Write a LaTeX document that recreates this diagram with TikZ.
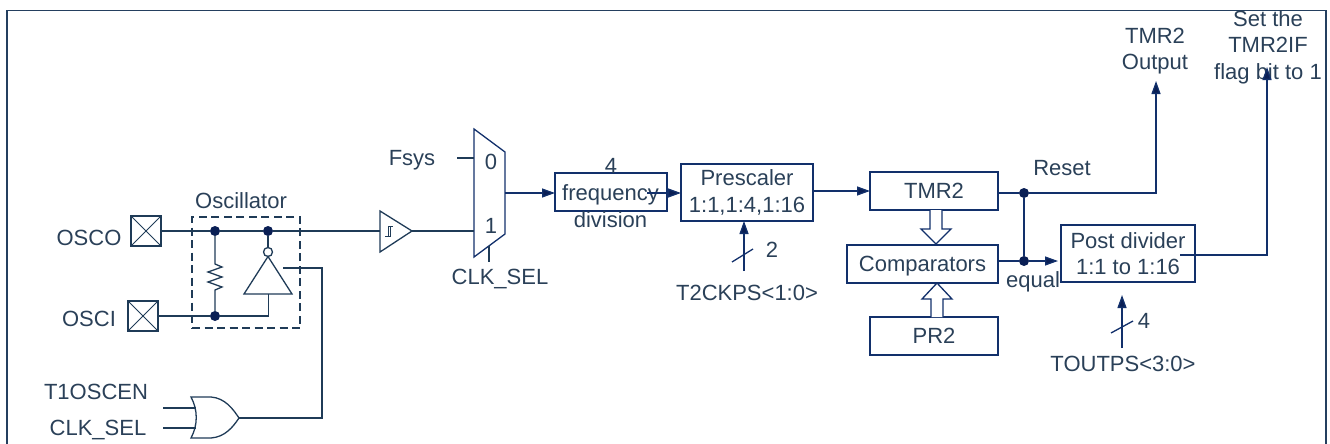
\documentclass[tikz,border=0pt]{standalone}
\usepackage{fontspec}
\setmainfont{Liberation Sans}
\usetikzlibrary{arrows.meta,calc}
\definecolor{boxc}{HTML}{12306B}
\definecolor{gatec}{HTML}{1F3B57}
\definecolor{textc}{HTML}{2A4058}
\definecolor{dotc}{HTML}{0A1F55}
\definecolor{framec}{HTML}{243F5F}
\tikzset{
  x=1pt,y=-1pt,
  lab/.style={text=textc,inner sep=0pt,outer sep=0pt,font=\fontsize{22}{26.5}\selectfont,text height=15.7pt,text depth=0pt,anchor=center},
  mlab/.style={text=textc,inner sep=0pt,outer sep=0pt,font=\fontsize{22}{26.5}\selectfont,align=center,anchor=center},
  blk/.style={draw=boxc,line width=1.3pt,inner sep=0pt,outer sep=0pt,minimum width=#1},
  wire/.style={draw=gatec,line width=1.3pt},
  bwire/.style={draw=boxc,line width=1.3pt},
  arr/.style={bwire,-{Triangle[length=13pt,width=9pt,fill=dotc]}},
  hollow/.style={draw=boxc,line width=1.3pt,fill=white,line join=miter},
  jdot/.style={circle,fill=dotc,inner sep=0pt,outer sep=0pt,minimum size=10pt},
  pad/.style={draw=gatec,line width=1.3pt,inner sep=0pt,outer sep=0pt,minimum size=30pt,
    path picture={\draw[gatec,line width=1pt] (path picture bounding box.north west)--(path picture bounding box.south east)
      (path picture bounding box.north east)--(path picture bounding box.south west);}},
  gate/.style={draw=gatec,line width=1.3pt,line join=miter}
}
\begin{document}
\begin{tikzpicture}
\useasboundingbox (0,0) rectangle (1330,444);
% frame
\draw[framec,line width=1.6pt] (7,446) -- (7,10.5) -- (1326,10.5) -- (1326,446);

% pads and oscillator
\node[lab] (oscoT) at (89,238) {OSCO};
\node[lab] (osciT) at (89,319) {OSCI};
\node[pad] (osco) at (146,231) {};
\node[pad] (osci) at (143,316) {};
\node[draw=gatec,line width=1.3pt,dash pattern=on 8pt off 4.5pt,minimum width=108pt,minimum height=111pt,inner sep=0pt,outer sep=0pt] (oscbox) at (246,272.5) {};
\node[lab] (oscT) at (241,201) {Oscillator};
\node[jdot] (j1) at (215,231) {};
\node[jdot] (j2) at (268,231) {};
\node[jdot] (j3) at (215,316) {};
\coordinate (rtop) at (215,263);
\coordinate (rbot) at (215,291);
\node[circle,draw=gatec,line width=1.3pt,fill=white,minimum size=9pt,inner sep=0pt,outer sep=0pt] (bub) at (268,252) {};
\coordinate (invB) at (268.5,294);
\coordinate (invEn) at (283,268);
\coordinate (orOut) at (239,418);
\coordinate (schIn) at (380,231);
\coordinate (schOut) at (412,231);

\draw[wire] (osco.east) -- (j1) -- (j2) -- (schIn);
\draw[wire] (osci.east) -- (j3) -| (invB);
\draw[wire] (j2) -- (bub);
\draw[wire] (j1) -- (rtop) -- ++(0,1) -- (222,267) -- (208,272) -- (222,277) -- (208,282) -- (222,287) -- (215,290) -- (rbot) -- (j3);
\draw[gate] (bub.south) -- (292,294) -- (244,294) -- cycle;
\draw[wire] (invEn) -- (322,268) |- (orOut);

% OR gate
\draw[gate] (191,397) -- (211,397) .. controls (225,398) and (233,409) .. (orOut) .. controls (233,427) and (225,437) .. (211,438) -- (191,438) .. controls (198,425) and (198,410) .. cycle;
\node[lab] (t1T) at (96,392) {T1OSCEN};
\node[lab] (clkT) at (98,428) {CLK\_SEL};
\coordinate (in1a) at (163,408);
\coordinate (in1b) at (196,408);
\coordinate (in2a) at (163,428);
\coordinate (in2b) at (196,428);
\draw[wire] (in1a) -- (in1b);
\draw[wire] (in2a) -- (in2b);

% schmitt trigger
\draw[gate] (380,211) -- (schOut) -- (380,252) -- cycle;
\draw[gatec,line width=1pt] (385,236) -- (390,236) -- (390,226) (388,236) -- (388,226) -- (393,226);
% mux
\coordinate (mux1) at (474,231);
\coordinate (mux0) at (474,158);
\coordinate (muxOut) at (505,193);
\coordinate (muxS) at (489,245.5);
\draw[bwire,line join=miter] (474,129) -- (505,152) -- (505,234) -- (474,257) -- cycle;
\draw[wire] (schOut) -- (mux1);
\node[lab] (fsysT) at (412,158) {Fsys};
\coordinate (f0) at (457,158);
\draw[wire] (f0) -- (mux0);
\node[lab] (m0) at (491,162) {0};
\node[lab] (m1) at (491,226) {1};
\coordinate (selEnd) at (489,262);
\draw[wire] (muxS) -- (selEnd);
\node[lab] (selT) at (500,277) {CLK\_SEL};

% frequency division
\node[blk=112pt,minimum height=38pt] (freq) at (611,192) {};
\node[mlab] (freqT) at (610.5,206) {frequency\\division};
\node[lab] (fourA) at (611,166) {4};
\draw[arr] (muxOut) -- (freq.west |- muxOut);

% prescaler
\node[blk=132pt,minimum height=57pt,mlab,draw=boxc] (pre) at (747,192.5) {Prescaler\\1:1,1:4,1:16};
\coordinate (fq2) at (647,193);
\draw[arr] (fq2) -- (pre.west |- fq2);
\coordinate (t2a) at (744,271);
\draw[arr] (t2a) -- (t2a |- pre.south);
\coordinate (s1a) at (732,262);
\coordinate (s1b) at (753,249);
\draw[bwire] (s1a) -- (s1b);
\node[lab] (twoT) at (772,250) {2};
\node[lab] (t2T) at (747,293) {T2CKPS<1:0>};

% TMR2, comparators, PR2
\node[blk=128pt,minimum height=38pt,lab,draw=boxc] (tmr) at (934,191) {TMR2};
\node[blk=151pt,minimum height=38pt,lab,draw=boxc] (cmp) at (922.5,264) {Comparators};
\node[blk=128pt,minimum height=38pt,lab,draw=boxc] (pr) at (934,336) {PR2};
\coordinate (preOut) at (pre.east |- tmr.west);
\draw[arr] (preOut) -- (tmr.west);
\draw[hollow,shift={([xshift=2pt]tmr.south)}] (-6,0) -- (-6,19) -- (-15,19) -- (0,34) -- (15,19) -- (6,19) -- (6,0);
\draw[hollow,shift={([xshift=3pt]pr.north)}] (-6,0) -- (-6,-18) -- (-15,-18) -- (0,-34) -- (15,-18) -- (6,-18) -- (6,0);

% outputs
\node[jdot] (j4) at (1024,193) {};
\node[jdot] (j5) at (1024,261) {};
\node[blk=134pt,minimum height=57pt,mlab,draw=boxc] (post) at (1128,253.5) {Post divider\\1:1 to 1:16};
\node[mlab] (tmrOut) at (1155,51) {TMR2\\Output};
\node[mlab] (setT) at (1268,47) {Set the\\TMR2IF\\flag bit to 1};
\coordinate (tmrArr) at (1156,81);
\coordinate (setArr) at (1267,67);
\coordinate (postOut) at (1180,255);
\draw[bwire] (tmr.east |- j4) -- (j4);
\draw[arr] (j4) -| (tmrArr);
\draw[bwire] (j4) -- (j5);
\draw[bwire] (cmp.east |- j5) -- (j5);
\draw[arr] (j5) -- (1058,261);
\draw[arr] (postOut) -| (setArr);
\node[lab] (rstT) at (1062,168) {Reset};
\node[lab] (eqT) at (1033,280) {equal};

\coordinate (t0a) at (1122,348);
\coordinate (t0b) at (1122,295);
\draw[arr] (t0a) -- (t0b);
\coordinate (s2a) at (1111,333);
\coordinate (s2b) at (1133,321);
\draw[bwire] (s2a) -- (s2b);
\node[lab] (fourB) at (1144,321) {4};
\node[lab] (toT) at (1123,364) {TOUTPS<3:0>};
\end{tikzpicture}
\end{document}
